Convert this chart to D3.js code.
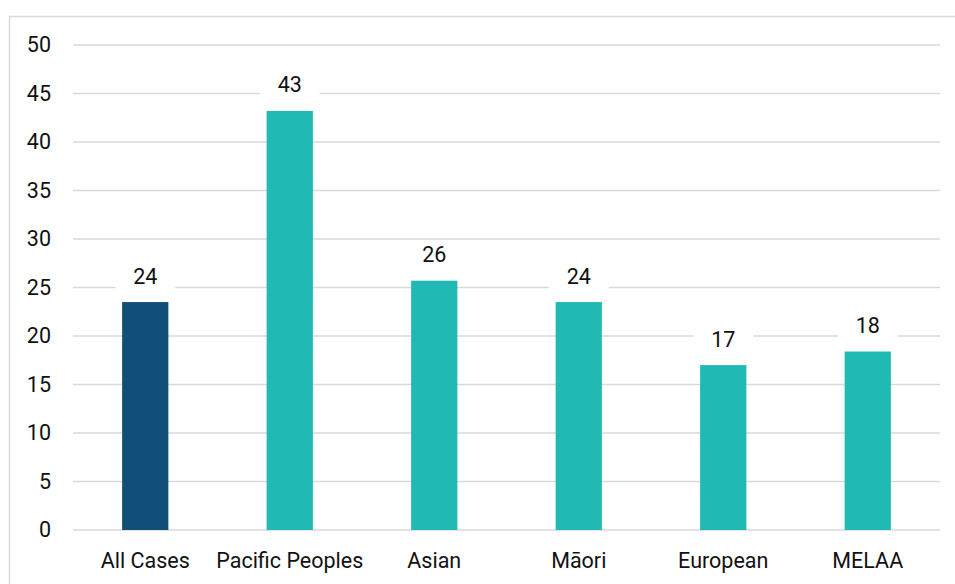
<!DOCTYPE html>
<html>
<head>
<meta charset="utf-8">
<script src="https://cdn.jsdelivr.net/npm/d3@7"></script>
<style>
  html, body { margin: 0; padding: 0; background: #fff; }
  svg { display: block; font-family: Roboto, "Liberation Sans", Arial, sans-serif; }
</style>
</head>
<body>
<svg id="chart" width="955" height="584"></svg>
<script>
// Rates by ethnic group
const categories = ["All Cases", "Pacific Peoples", "Asian", "Māori", "European", "MELAA"];
const values = [23.5, 43.2, 25.7, 23.5, 17.0, 18.4];
const yTicks = [0, 5, 10, 15, 20, 25, 30, 35, 40, 45, 50];
const barColors = ["#114f79", "#20b9b3", "#20b9b3", "#20b9b3", "#20b9b3", "#20b9b3"];

const svg = d3.select("#chart");
const W = 955, H = 584;
const margin = { left: 73, right: 15, top: 45, bottom: 54 };
const FONT = "Roboto, Liberation Sans, Arial, sans-serif";
const FS = 21.5;
const INK = "#111";

// outer frame
svg.append("rect")
  .attr("x", 9.5).attr("y", 16.5)
  .attr("width", W).attr("height", H)
  .attr("fill", "none").attr("stroke", "#d9d9d9").attr("stroke-width", 1.5);

const x = d3.scaleBand()
  .domain(categories)
  .range([margin.left, W - margin.right])
  .paddingInner(0.68).paddingOuter(0.34);

const y = d3.scaleLinear()
  .domain([0, 50])
  .range([H - margin.bottom, margin.top]);

// gridlines
svg.append("g")
  .selectAll("line")
  .data(yTicks)
  .join("line")
  .attr("x1", margin.left).attr("x2", W - margin.right)
  .attr("y1", d => y(d)).attr("y2", d => y(d))
  .attr("stroke", "#d9d9d9").attr("stroke-width", 1.5);

// y axis labels
const yAxis = d3.axisLeft(y).tickValues(yTicks).tickSize(0).tickPadding(0);
svg.append("g")
  .attr("transform", `translate(${margin.left - 22},0)`)
  .call(yAxis)
  .call(g => g.select(".domain").remove())
  .call(g => g.selectAll("text")
    .attr("font-size", FS).attr("fill", INK)
    .attr("font-family", FONT));

// x axis labels
const xAxis = d3.axisBottom(x).tickSize(0).tickPadding(0);
svg.append("g")
  .attr("transform", `translate(0,${y(0) + 23})`)
  .call(xAxis)
  .call(g => g.select(".domain").remove())
  .call(g => g.selectAll("text")
    .attr("font-size", FS).attr("fill", INK)
    .attr("font-family", FONT));

const data = categories.map((c, i) => ({ c, v: values[i], color: barColors[i] }));

// bars
svg.append("g")
  .selectAll("rect")
  .data(data)
  .join("rect")
  .attr("x", d => x(d.c))
  .attr("width", x.bandwidth())
  .attr("y", d => y(d.v))
  .attr("height", d => y(0) - y(d.v))
  .attr("fill", d => d.color);

// value labels with white backing
const fmt = d3.format(".0f");
const lbl = svg.append("g")
  .selectAll("g")
  .data(data)
  .join("g")
  .attr("transform", d => `translate(${x(d.c) + x.bandwidth() / 2},${y(d.v) - 18})`);

lbl.append("rect")
  .attr("x", -30).attr("y", -18).attr("width", 60).attr("height", 24)
  .attr("fill", "#fff");

lbl.append("text")
  .attr("text-anchor", "middle")
  .attr("dy", "0.35em")
  .attr("y", -8)
  .attr("font-size", FS).attr("fill", INK)
  .attr("font-family", FONT)
  .text(d => fmt(d.v));
</script>
</body>
</html>
